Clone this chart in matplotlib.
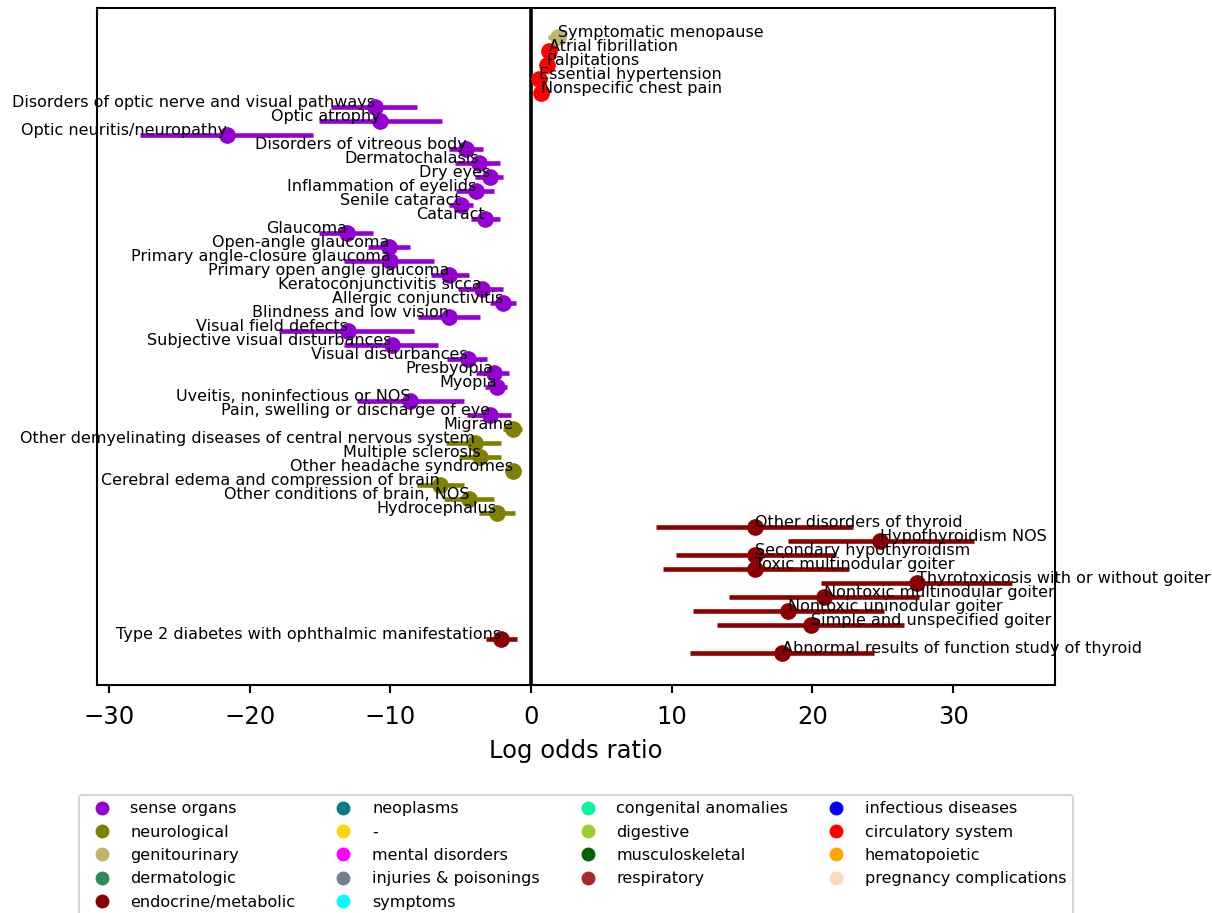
import matplotlib
matplotlib.use("Agg")
import matplotlib.pyplot as plt
from matplotlib.lines import Line2D

names = [
    "Symptomatic menopause", "Atrial fibrillation", "Palpitations",
    "Essential hypertension", "Nonspecific chest pain",
    "Disorders of optic nerve and visual pathways", "Optic atrophy",
    "Optic neuritis/neuropathy", "Disorders of vitreous body", "Dermatochalasis",
    "Dry eyes", "Inflammation of eyelids", "Senile cataract", "Cataract",
    "Glaucoma", "Open-angle glaucoma", "Primary angle-closure glaucoma",
    "Primary open angle glaucoma", "Keratoconjunctivitis sicca",
    "Allergic conjunctivitis", "Blindness and low vision", "Visual field defects",
    "Subjective visual disturbances", "Visual disturbances", "Presbyopia", "Myopia",
    "Uveitis, noninfectious or NOS", "Pain, swelling or discharge of eye",
    "Migraine", "Other demyelinating diseases of central nervous system",
    "Multiple sclerosis", "Other headache syndromes",
    "Cerebral edema and compression of brain", "Other conditions of brain, NOS",
    "Hydrocephalus", "Other disorders of thyroid", "Hypothyroidism NOS",
    "Secondary hypothyroidism", "Toxic multinodular goiter",
    "Thyrotoxicosis with or without goiter", "Nontoxic multinodular goiter",
    "Nontoxic uninodular goiter", "Simple and unspecified goiter",
    "Type 2 diabetes with ophthalmic manifestations",
    "Abnormal results of function study of thyroid",
]
categories = (["genitourinary"] + ["circulatory system"] * 4 + ["sense organs"] * 23
              + ["neurological"] * 7 + ["endocrine/metabolic"] * 10)
log_odds = [1.9, 1.3, 1.1, 0.55, 0.7,
            -11.1, -10.7, -21.6, -4.6, -3.7, -2.9, -3.9, -5.0, -3.3,
            -13.1, -10.1, -10.0, -5.8, -3.5, -2.0, -5.8, -13.0, -9.9, -4.5,
            -2.65, -2.4, -8.6, -2.9,
            -1.3, -4.0, -3.6, -1.3, -6.5, -4.4, -2.45,
            15.9, 24.8, 15.9, 15.9, 27.4, 20.8, 18.25, 19.9, -2.1, 17.8]
ci_low = [1.2, 0.8, 0.7, 0.2, 0.35,
          -14.2, -15.1, -27.8, -5.8, -5.4, -4.0, -5.3, -5.8, -4.3,
          -15.1, -11.6, -13.3, -7.1, -5.2, -2.9, -8.0, -17.9, -13.3, -6.0,
          -3.9, -3.3, -12.4, -4.55,
          -2.0, -6.05, -5.1, -1.6, -8.1, -6.2, -3.7,
          8.9, 18.25, 10.3, 9.4, 20.6, 14.1, 11.5, 13.25, -3.2, 11.3]
ci_high = [2.5, 1.8, 1.6, 0.9, 1.1,
           -8.1, -6.3, -15.5, -3.4, -2.2, -2.0, -2.6, -4.15, -2.2,
           -11.2, -8.6, -6.9, -4.4, -2.0, -1.1, -3.6, -8.3, -6.6, -3.1,
           -1.6, -1.7, -4.75, -1.45,
           -0.66, -2.1, -2.1, -1.0, -4.75, -2.6, -1.14,
           22.9, 31.5, 21.7, 22.6, 34.2, 27.6, 25.1, 26.5, -1.0, 24.4]

legend_labels = ["sense organs", "neurological", "genitourinary", "dermatologic",
                 "endocrine/metabolic", "neoplasms", "-", "mental disorders",
                 "injuries & poisonings", "symptoms", "congenital anomalies",
                 "digestive", "musculoskeletal", "respiratory", "infectious diseases",
                 "circulatory system", "hematopoietic", "pregnancy complications"]
legend_colors = ["darkviolet", "olive", "darkkhaki", "seagreen", "darkred", "teal",
                 "gold", "fuchsia", "slategray", "cyan", "mediumspringgreen",
                 "yellowgreen", "darkgreen", "brown", "blue", "red", "orange",
                 "peachpuff"]
cat_color = dict(zip(legend_labels, legend_colors))

fig = plt.figure(figsize=(12.12, 9.13), dpi=100)
ax = fig.add_axes([0.080, 0.2497, 0.7905, 0.7415])

for i, (n, c, b, lo, hi) in enumerate(zip(names, categories, log_odds, ci_low, ci_high)):
    col = cat_color[c]
    ax.errorbar([b], [i], xerr=[[b - lo], [hi - b]], fmt='o', color=col, ms=11,
                elinewidth=3.3, capsize=0, zorder=3)
    ax.text(b, i, n, ha='left' if b > 0 else 'right', va='baseline',
            fontsize=11.5, zorder=5)

ax.axvline(0, color='black', lw=2.6, zorder=2)
ax.set_xlim(-30.85, 37.24)
ax.set_ylim(46.3, -2.07)
ax.set_yticks([])
ax.set_xticks([-30, -20, -10, 0, 10, 20, 30])
ax.tick_params(axis='x', labelsize=17.5, length=5.5, width=1.5, pad=9)
for s in ax.spines.values():
    s.set_linewidth(1.5)
ax.set_xlabel("Log odds ratio", fontsize=17.5, labelpad=7)

handles = [Line2D([], [], marker='o', ls='none', color=c, ms=9) for c in legend_colors]
leg = ax.legend(handles, legend_labels, loc='upper center', bbox_to_anchor=(0.5, -0.1507),
                ncol=4, fontsize=11.5, labelspacing=0.52, columnspacing=2.0,
                handletextpad=0.8, handlelength=2.0, frameon=True)
leg.get_frame().set_linewidth(1.5)

fig.savefig("out.png", dpi=100)
